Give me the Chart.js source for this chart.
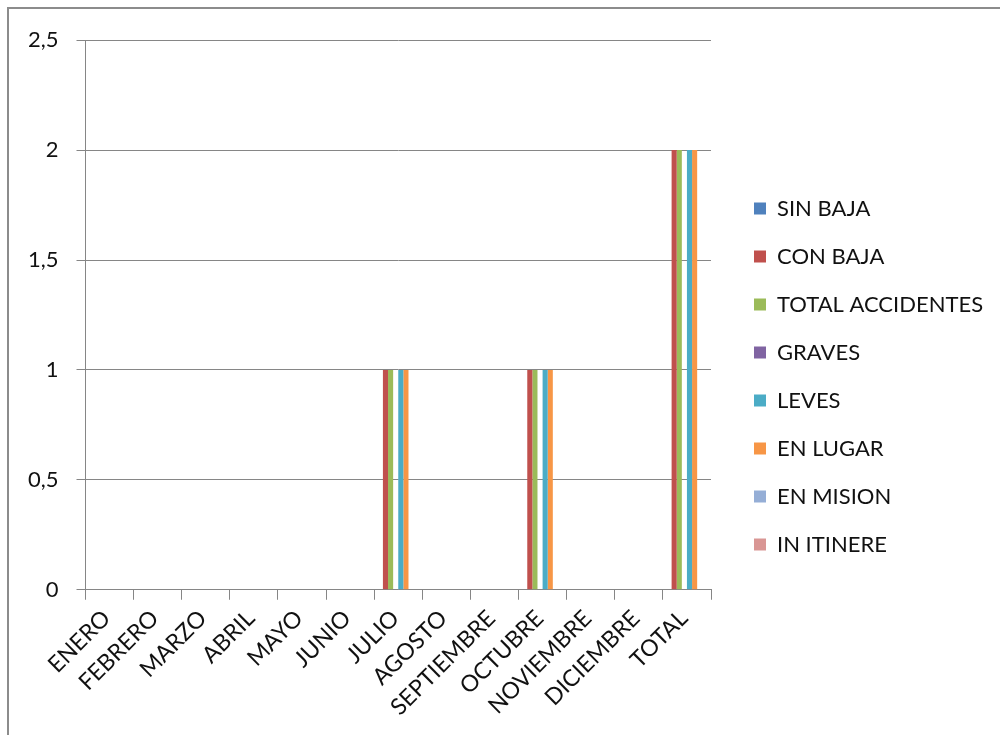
<!DOCTYPE html>
<html>
<head>
<meta charset="utf-8">
<script src="https://cdn.jsdelivr.net/npm/chart.js@4.4.0/dist/chart.umd.min.js"></script>
<style>
  html, body { margin: 0; padding: 0; background: #fff; overflow: hidden; }
  #frame { position: absolute; left: 7px; top: 7px; width: 1100px; height: 740px;
           border-top: 2px solid #8c8c8c; border-left: 2px solid #8c8c8c; background: #fff; }
  #wrap { position: absolute; left: 0; top: 0; width: 991px; height: 726px; }
</style>
</head>
<body>
<div id="frame"><div id="wrap"><canvas id="c"></canvas></div></div>
<script>
const categories = ["ENERO","FEBRERO","MARZO","ABRIL","MAYO","JUNIO","JULIO","AGOSTO","SEPTIEMBRE","OCTUBRE","NOVIEMBRE","DICIEMBRE","TOTAL"];
const seriesNames = ["SIN BAJA","CON BAJA","TOTAL ACCIDENTES","GRAVES","LEVES","EN LUGAR","EN MISION","IN ITINERE"];
const seriesColors = ["#4F81BD","#C0504D","#9BBB59","#8064A2","#4BACC6","#F79646","#95AED6","#D99694"];
const sinBaja          = [0,0,0,0,0,0,0,0,0,0,0,0,0];
const conBaja          = [0,0,0,0,0,0,1,0,0,1,0,0,2];
const totalAccidentes  = [0,0,0,0,0,0,1,0,0,1,0,0,2];
const graves           = [0,0,0,0,0,0,0,0,0,0,0,0,0];
const leves            = [0,0,0,0,0,0,1,0,0,1,0,0,2];
const enLugar          = [0,0,0,0,0,0,1,0,0,1,0,0,2];
const enMision         = [0,0,0,0,0,0,0,0,0,0,0,0,0];
const inItinere        = [0,0,0,0,0,0,0,0,0,0,0,0,0];
const seriesValues = [sinBaja, conBaja, totalAccidentes, graves, leves, enLugar, enMision, inItinere];
const yTickLabels = {"0":"0","0.5":"0,5","1":"1","1.5":"1,5","2":"2","2.5":"2,5"};

const FONT = {family: "Lato, sans-serif", size: 22};
const XFONT = {family: "Lato, sans-serif", size: 23};
const GRID = "#868686";
const LEGEND_W = 272;

const legendWidthPlugin = {
  id: 'legendWidth',
  beforeLayout(chart) {
    const lg = chart.legend;
    if (lg && !lg._fixedW) {
      const f = lg.fit;
      lg.fit = function () { f.call(this); this.width = LEGEND_W; };
      lg._fixedW = true;
    }
  }
};

new Chart(document.getElementById('c'), {
  type: 'bar',
  data: {
    labels: categories,
    datasets: seriesNames.map((n, i) => ({
      label: n,
      data: seriesValues[i],
      backgroundColor: seriesColors[i],
      borderWidth: 0,
      categoryPercentage: 0.85,
      barPercentage: 1.0,
      yAxisID: 'y'
    }))
  },
  plugins: [legendWidthPlugin],
  options: {
    responsive: true,
    maintainAspectRatio: false,
    animation: false,
    layout: { padding: { top: 18, left: 1, right: 0, bottom: 9 } },
    plugins: {
      tooltip: { enabled: false },
      legend: {
        position: 'right',
        align: 'center',
        labels: {
          boxWidth: 12, boxHeight: 12, padding: 26,
          color: '#111', font: FONT
        }
      }
    },
    scales: {
      x: {
        grid: { display: true, drawOnChartArea: false, drawTicks: true, tickLength: 10, color: GRID, offset: true },
        border: { display: true, color: GRID, width: 1 },
        ticks: { color: '#111', font: XFONT, maxRotation: 45, minRotation: 45, autoSkip: false, padding: 5, labelOffset: -3 }
      },
      y: {
        min: 0, max: 2.5,
        grid: { color: GRID, lineWidth: 1, drawTicks: true, tickLength: 9 },
        border: { display: true, color: GRID, width: 1 },
        ticks: { stepSize: 0.5, color: '#111', font: FONT, padding: 18,
                 callback: (v) => yTickLabels[String(v)] ?? String(v).replace('.', ',') }
      },
      gap: {
        type: 'linear', position: 'right', display: true,
        grid: { display: false, drawTicks: false }, border: { display: false },
        ticks: { display: false },
        afterFit: (s) => { s.width = 17; }
      }
    }
  }
});
</script>
</body>
</html>
